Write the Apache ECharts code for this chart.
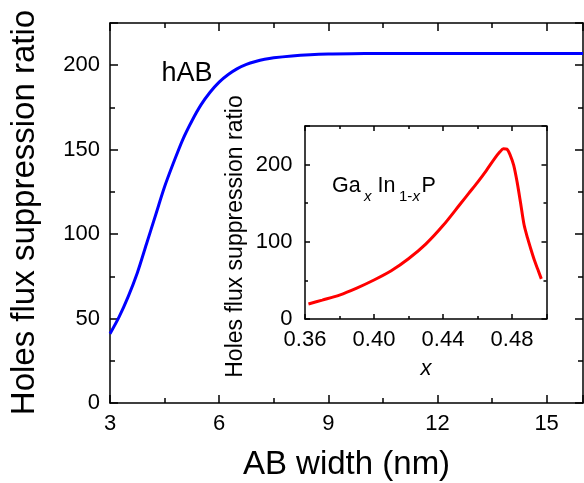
<!DOCTYPE html>
<html>
<head>
<meta charset="utf-8">
<script src="https://cdn.jsdelivr.net/npm/echarts@6/dist/echarts.min.js"></script>
<style>
  html, body { margin: 0; padding: 0; background: #fff; }
  #chart { width: 584px; height: 483px; }
</style>
</head>
<body>
<div id="chart"></div>
<script>
// hAB barrier: holes flux suppression ratio against AB width (nm)
const abWidth  = [3.0, 3.25, 3.5, 3.75, 4.0, 4.25, 4.5, 4.75, 5.0, 5.25, 5.5, 5.75, 6.0, 6.25, 6.5, 6.75, 7.0, 7.25, 7.5, 8.0, 8.5, 9.0, 10, 11, 12, 13, 14, 15, 16];
const hAbRatio = [41, 51, 63, 77, 94, 111, 128, 142.5, 156, 167, 176.5, 184, 190, 194.5, 198, 200.5, 202.2, 203.5, 204.4, 205.5, 206.2, 206.6, 207, 207, 207, 207, 207, 207, 207];

// GaxIn1-xP barrier: suppression ratio against Ga fraction x
const gaFraction = [0.362, 0.37, 0.38, 0.39, 0.40, 0.41, 0.42, 0.43, 0.44, 0.45, 0.455, 0.46, 0.465, 0.47, 0.473, 0.475, 0.477, 0.479, 0.481, 0.483, 0.485, 0.487, 0.489, 0.491, 0.493, 0.495, 0.497];
const gaRatio    = [19.5, 24.5, 31, 40, 50.5, 62.5, 78, 97, 121, 149, 163, 177, 192, 208, 216.5, 220.5, 220, 212, 199, 177, 150, 122, 105, 90, 76, 64, 52];

// axis ranges and tick steps
const mainX  = { min: 3, max: 16, major: 3, minor: 1.5 };
const mainY  = { min: 0, max: 225, major: 50, minor: 25 };
const insetX = { min: 0.36, max: 0.50, major: 0.04, minor: 0.02 };
const insetY = { min: 0, max: 250, major: 100, minor: 50 };

const FONT = '"Liberation Sans", Arial, sans-serif';
const INK = '#000';

function pairs(xs, ys) { return xs.map((x, i) => [x, ys[i]]); }

// Four axes per side pair: labelled major + minor on the main side, mirrored major + minor opposite.
function boxAxes(kind, grid, r, majorLen, minorLen, label) {
  const sides = kind === 'x' ? ['bottom', 'top'] : ['left', 'right'];
  const axes = [];
  sides.forEach((pos, i) => {
    [[r.major, majorLen], [r.minor, minorLen]].forEach(([interval, len], j) => {
      axes.push({
        type: 'value', gridIndex: grid, position: pos,
        min: r.min, max: r.max, interval: interval,
        splitLine: { show: false },
        axisLine: { show: j === 0, onZero: false, lineStyle: { color: INK, width: 1.5 } },
        axisTick: { show: true, inside: true, length: len, lineStyle: { color: INK, width: 1.5 } },
        axisLabel: (i === 0 && j === 0) ? label : { show: false },
        axisPointer: { show: false }
      });
    });
  });
  return axes;
}

function tickLabel(margin, formatter) {
  return { show: true, margin: margin, fontFamily: FONT, fontSize: 22, color: INK, formatter: formatter };
}

const isStep = (v, step) => Math.abs(Math.round(v / step) * step - v) < 1e-6;

const xAxes = [].concat(
  boxAxes('x', 0, mainX, 8, 5, tickLabel(10, v => isStep(v, mainX.major) ? String(Math.round(v)) : '')),
  boxAxes('x', 1, insetX, 5, 3, tickLabel(10, v => isStep(v, insetX.major) ? v.toFixed(2) : ''))
);
const yAxes = [].concat(
  boxAxes('y', 0, mainY, 8, 5, tickLabel(10, v => isStep(v, mainY.major) ? String(Math.round(v)) : '')),
  boxAxes('y', 1, insetY, 5, 3, tickLabel(12.5, v => isStep(v, insetY.major) ? String(Math.round(v)) : ''))
);

function txt(text, x, y, size, opts) {
  opts = opts || {};
  return {
    type: 'text', x: x, y: y, rotation: opts.rotation || 0, silent: true,
    style: {
      text: text, fill: INK,
      font: (opts.italic ? 'italic ' : '') + size + 'px ' + FONT,
      align: opts.align || 'center', verticalAlign: 'middle'
    }
  };
}

const chart = echarts.init(document.getElementById('chart'), null, { renderer: 'canvas' });

chart.setOption({
  animation: false,
  backgroundColor: '#fff',
  grid: [
    { left: 110, top: 23, width: 473, height: 380, outerBoundsMode: 'none', containLabel: false },
    { left: 305, top: 126, width: 241.5, height: 193, outerBoundsMode: 'none', containLabel: false }
  ],
  xAxis: xAxes,
  yAxis: yAxes,
  series: [
    {
      type: 'line', xAxisIndex: 0, yAxisIndex: 0,
      data: pairs(abWidth, hAbRatio), smooth: 0.3, symbol: 'none',
      lineStyle: { color: '#0000ff', width: 3 }
    },
    {
      type: 'line', xAxisIndex: 4, yAxisIndex: 4,
      data: pairs(gaFraction, gaRatio), smooth: 0.3, symbol: 'none',
      lineStyle: { color: '#ff0000', width: 3 }
    }
  ],
  graphic: [
    txt('Holes flux suppression ratio', 24.6, 212.5, 33, { rotation: Math.PI / 2 }),
    txt('AB width (nm)', 346.5, 465.3, 33),
    txt('hAB', 161.5, 74, 27, { align: 'left' }),
    txt('Holes flux suppression ratio', 235.5, 236.5, 23, { rotation: Math.PI / 2 }),
    txt('x', 426, 369, 22, { italic: true }),
    // Ga_x In_(1-x) P
    txt('Ga', 332, 186, 21.5, { align: 'left' }),
    txt('x', 364, 197.1, 15, { align: 'left', italic: true }),
    txt('In', 377.5, 186, 21.5, { align: 'left' }),
    txt('1-', 399, 197.1, 15, { align: 'left' }),
    txt('x', 412.5, 197.1, 15, { align: 'left', italic: true }),
    txt('P', 421.6, 186, 21.5, { align: 'left' })
  ]
});
</script>
</body>
</html>
